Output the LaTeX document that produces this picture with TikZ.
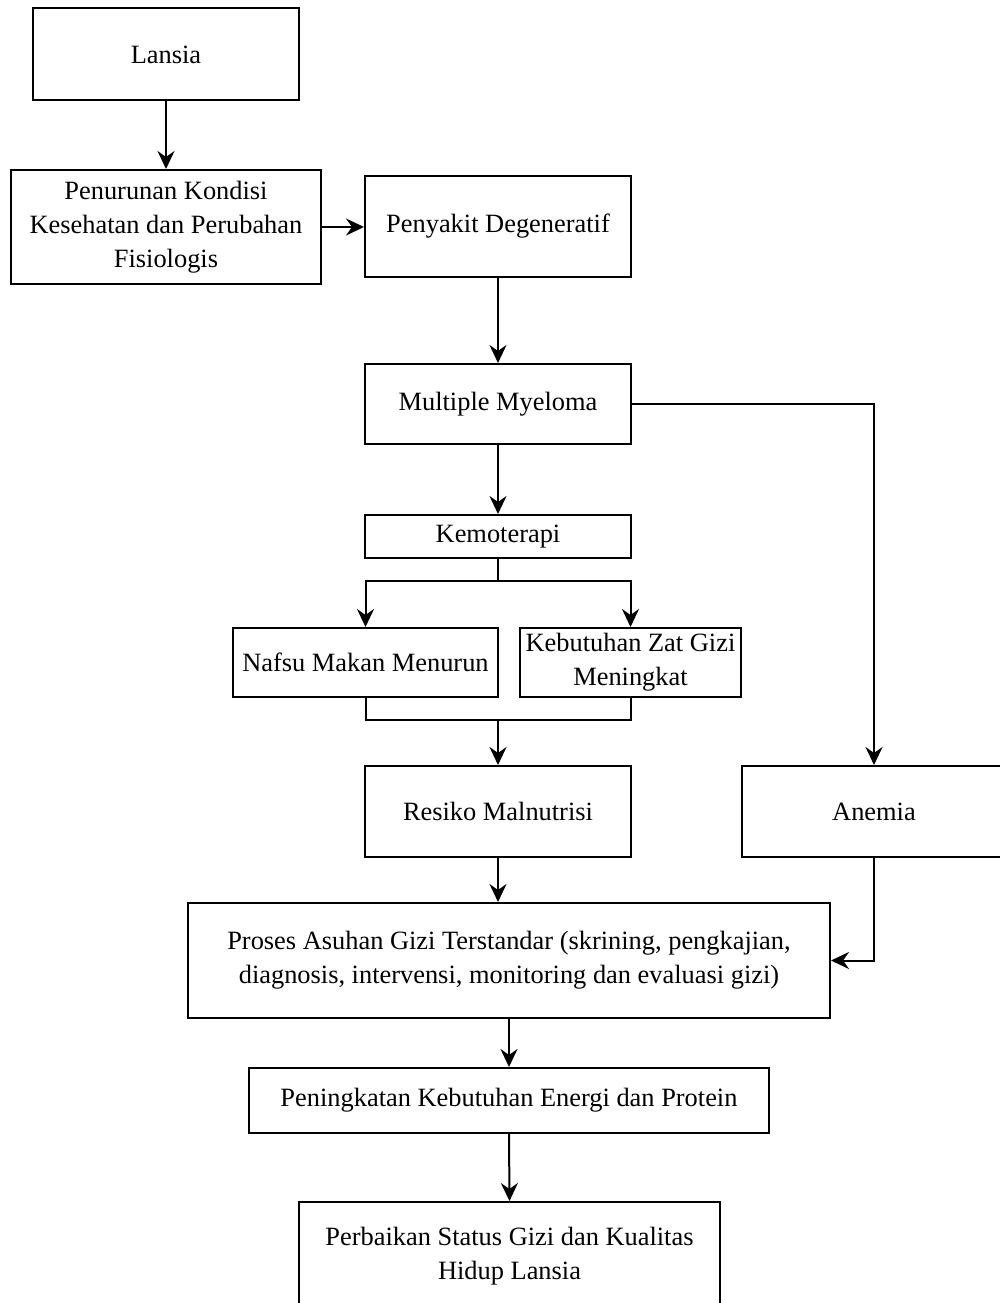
\documentclass[tikz,border=0pt]{standalone}
\usepackage{fontspec}
\setmainfont{Liberation Serif}
\usetikzlibrary{arrows.meta}
\begin{document}
\begin{tikzpicture}[x=1pt,y=-1pt,
  box/.style={draw, line width=2pt, align=center, inner sep=0pt,
    font=\fontsize{26.4}{34}\selectfont},
  arr/.style={line width=2pt, -{Stealth[length=18pt,width=17pt,inset=6pt]}},
  ln/.style={line width=2pt}]
\useasboundingbox (0,0) rectangle (999,1303);
\node[box, minimum width=266, minimum height=92] (lansia) at (166,54.5) {Lansia};
\node[box, minimum width=310, minimum height=114] (turun) at (166,227) {Penurunan Kondisi\\Kesehatan dan Perubahan\\Fisiologis};
\node[box, minimum width=266, minimum height=101] (degen) at (498,226.5) {Penyakit Degeneratif};
\node[box, minimum width=266, minimum height=80] (mm) at (498,404) {Multiple Myeloma};
\node[box, minimum width=266, minimum height=43] (kemo) at (498,536.5) {Kemoterapi};
\node[box, minimum width=265, minimum height=69] (nafsu) at (365.5,662.5) {Nafsu Makan Menurun};
\node[box, minimum width=221, minimum height=69] (butuh) at (630.5,662.5) {Kebutuhan Zat Gizi\\Meningkat};
\node[box, minimum width=266, minimum height=91] (resiko) at (498,811.5) {Resiko Malnutrisi};
\node[box, minimum width=264, minimum height=91] (anemia) at (874,811.5) {Anemia};
\node[box, minimum width=642, minimum height=115] (proses) at (509,960.5) {Proses Asuhan Gizi Terstandar (skrining, pengkajian,\\diagnosis, intervensi, monitoring dan evaluasi gizi)};
\node[box, minimum width=520, minimum height=65] (energi) at (509,1100.5) {Peningkatan Kebutuhan Energi dan Protein};
\node[box, minimum width=421, minimum height=108] (perbaikan) at (509.5,1256) {Perbaikan Status Gizi dan Kualitas\\Hidup Lansia};
\coordinate (split) at (498,581);
\coordinate (merge) at (498,720);
\draw[arr] (lansia) -- (turun);
\draw[arr] (turun.east) -- (degen.west |- turun.east);
\draw[arr] (degen) -- (mm);
\draw[arr] (mm.east) -| (anemia.north);
\draw[arr] (mm) -- (kemo);
\draw[ln] (kemo.south) -- (split);
\draw[arr] (split) -| (nafsu.north);
\draw[arr] (split) -| (butuh.north);
\draw[ln] (nafsu.south) |- (merge) -| (butuh.south);
\draw[arr] (merge) -- (resiko.north);
\draw[arr] (resiko.south) -- (resiko.south |- proses.north);
\draw[arr] (anemia.south) |- (proses.east);
\draw[arr] (proses.south) -- (energi.north);
\draw[arr] (energi.south) -- (perbaikan.north);
\end{tikzpicture}
\end{document}
